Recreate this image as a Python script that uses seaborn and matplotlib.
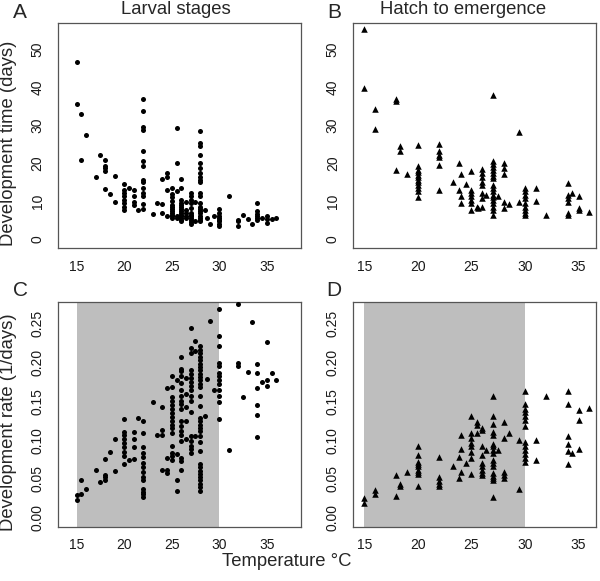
import numpy as np
import pandas as pd
import matplotlib
matplotlib.use("Agg")
import matplotlib.pyplot as plt
import seaborn as sns

# ---------------- data ----------------
# Panel A: larval stages, development time (days)
a_temps = [15, 15.5, 16, 17, 17.5, 18, 18.5, 19, 20, 20.5, 21, 21.5, 22, 23, 23.5, 24, 24.5, 25,
           25.6, 26, 26.5, 27, 27.5, 28, 28.5, 28.7, 29, 29.5, 30, 31, 32, 32.5, 33, 33.5, 34,
           34.5, 35, 35.5, 36]
a_days = [[46.8, 35.7], [33.0, 21.0], [27.4], [16.3], [22.1], [21.0, 19.4, 18.8, 18.1, 13.2],
          [11.8], [16.8, 9.8], [14.6, 13.0, 12.1, 11.3, 10.4, 9.5, 8.6, 7.7], [13.5],
          [13.0, 11.3, 9.9, 9.1], [7.7],
          [37.0, 33.7, 29.6, 28.9, 23.3, 20.6, 19.2, 15.7, 15.0, 13.5, 12.1, 11.3, 9.2, 7.9],
          [6.7], [9.5], [15.9, 9.3, 6.9], [17.4, 16.5, 12.9, 6.0],
          [13.5, 12.0, 11.0, 10.0, 9.0, 8.5, 8.0, 7.5, 7.0, 6.5, 6.0, 5.5],
          [29.3, 20.2, 12.8, 6.0, 5.5],
          [15.9, 13.5, 10.4, 9.5, 9.0, 8.6, 8.0, 7.5, 7.0, 6.5, 6.0, 5.5, 5.0, 4.8],
          [9.9, 7.7, 6.9, 6.0, 5.5],
          [12.1, 11.3, 10.4, 9.5, 8.2, 6.9, 6.5, 6.0, 5.5, 5.0, 4.5, 4.1],
          [9.8, 4.7],
          [28.6, 25.4, 24.5, 22.3, 20.1, 18.8, 17.4, 16.5, 15.7, 15.0, 12.1, 11.3, 9.5, 8.6, 7.9,
           7.4, 6.8, 6.2, 5.6, 5.0, 4.7],
          [7.6], [5.5], [3.9], [6.0], [7.9, 7.0, 6.2, 5.5, 5.1, 4.7, 4.0, 3.5], [11.5],
          [5.1, 4.8, 3.5], [6.4], [5.4], [3.9], [9.6, 7.5, 6.6, 6.0, 5.5, 5.1], [5.5],
          [6.0, 5.3, 4.4], [5.3], [5.5]]

# Panel B: hatch to emergence, development time (days)
b_temps = [15, 16, 18, 18.3, 19, 20, 22, 23.3, 23.8, 24, 24.5, 25, 25.5, 25.6, 26, 26.4, 27,
           27.5, 28, 28.5, 29.4, 30, 31, 32, 34, 34.4, 35, 36]
b_days = [[55.5, 39.9], [34.3, 29.1], [37.0, 36.4, 18.3], [24.7, 23.2], [17.1],
          [24.8, 19.2, 18.3, 17.6, 17.0, 16.3, 15.7, 15.0, 14.3, 13.6, 12.6, 11.0],
          [25.2, 23.2, 22.3, 21.8, 19.5, 13.0], [15.1], [20.1, 13.0], [17.3, 11.5, 9.5],
          [14.6], [18.0, 13.0, 12.1, 11.3, 10.4, 9.5, 7.7], [8.6], [8.2],
          [18.5, 17.4, 16.5, 15.2, 14.3, 12.3, 10.8, 8.6], [11.7],
          [37.9, 20.5, 19.8, 19.0, 18.3, 17.5, 16.8, 16.1, 14.3, 13.5, 12.6, 11.7, 11.1, 10.4,
           9.5, 8.6, 7.7, 6.4],
          [11.5], [20.1, 18.9, 17.2, 9.9, 8.2], [9.3], [28.2, 9.9],
          [13.6, 12.6, 11.7, 10.8, 9.5, 8.6, 7.7, 6.9, 6.4], [13.6, 10.0], [6.4],
          [14.7, 11.7, 10.8, 9.9, 6.9, 6.3], [12.1], [11.3, 8.2, 7.6], [7.3]]

# Panel C: larval stages, development rate (1/days)
c_temps = a_temps
c_rate = [[0.0223, 0.0288], [0.048, 0.031], [0.037], [0.062], [0.046],
          [0.076, 0.055, 0.052, 0.048], [0.085], [0.102, 0.060],
          [0.127, 0.111, 0.107, 0.101, 0.096, 0.091, 0.085, 0.079, 0.069], [0.074],
          [0.111, 0.101, 0.091, 0.076], [0.129],
          [0.125, 0.109, 0.091, 0.084, 0.078, 0.071, 0.065, 0.059, 0.052, 0.048, 0.037, 0.033,
           0.030, 0.027],
          [0.149], [0.107], [0.143, 0.113, 0.107, 0.062], [0.167, 0.077, 0.061, 0.058],
          [0.183, 0.168, 0.155, 0.150, 0.145, 0.140, 0.135, 0.130, 0.125, 0.120, 0.115, 0.109,
           0.092, 0.084, 0.079, 0.074],
          [0.178, 0.082, 0.049, 0.034],
          [0.207, 0.192, 0.189, 0.183, 0.174, 0.165, 0.157, 0.151, 0.146, 0.140, 0.125, 0.118,
           0.112, 0.107, 0.099, 0.077, 0.073, 0.062],
          [0.180, 0.159, 0.143, 0.125, 0.102],
          [0.245, 0.219, 0.213, 0.190, 0.185, 0.180, 0.175, 0.170, 0.165, 0.157, 0.150, 0.136,
           0.105, 0.099, 0.092, 0.088, 0.084],
          [0.228, 0.215, 0.105],
          [0.221, 0.216, 0.212, 0.207, 0.203, 0.198, 0.194, 0.190, 0.185, 0.181, 0.177, 0.172,
           0.168, 0.157, 0.144, 0.129, 0.125, 0.120, 0.116, 0.112, 0.105, 0.097, 0.086, 0.069,
           0.065, 0.060, 0.056, 0.052, 0.048, 0.043, 0.039, 0.035],
          [0.131], [0.179], [0.254], [0.165],
          [0.269, 0.234, 0.221, 0.200, 0.196, 0.186, 0.183, 0.178, 0.172, 0.165, 0.157, 0.149,
           0.127],
          [0.087], [0.276, 0.200, 0.195], [0.155], [0.188], [0.253],
          [0.198, 0.186, 0.167, 0.145, 0.133, 0.104], [0.175], [0.227, 0.177, 0.170], [0.186],
          [0.178]]

# Panel D: hatch to emergence, development rate (1/days)
d_temps = [15, 16, 18, 18.3, 19, 20, 22, 23.3, 23.8, 24, 24.5, 25, 25.5, 26, 26.4, 27, 27.5,
           28, 28.5, 29.4, 30, 31, 32, 34, 34.4, 35, 36]
d_rate = [[0.026, 0.0185], [0.036, 0.031], [0.055, 0.028], [0.044, 0.041], [0.059],
          [0.092, 0.081, 0.072, 0.069, 0.066, 0.062, 0.059, 0.056, 0.041],
          [0.078, 0.052, 0.047, 0.044, 0.041], [0.067], [0.078, 0.051], [0.107, 0.088, 0.059],
          [0.070], [0.131, 0.109, 0.103, 0.096, 0.092, 0.085, 0.077, 0.056],
          [0.123, 0.120, 0.109],
          [0.116, 0.113, 0.093, 0.081, 0.070, 0.066, 0.062, 0.058, 0.055], [0.087],
          [0.157, 0.131, 0.121, 0.111, 0.107, 0.095, 0.092, 0.087, 0.083, 0.075, 0.071, 0.067,
           0.057, 0.054, 0.051, 0.048, 0.027],
          [0.087], [0.124, 0.103, 0.059, 0.055, 0.051], [0.109], [0.100, 0.037],
          [0.163, 0.147, 0.140, 0.136, 0.131, 0.126, 0.118, 0.097, 0.092, 0.087, 0.082, 0.077,
           0.072],
          [0.100, 0.075], [0.157], [0.163, 0.146, 0.105, 0.095, 0.086, 0.069], [0.084],
          [0.139, 0.126, 0.089], [0.141]]

panel_titles = ["Larval stages", "Hatch to emergence"]
panel_letters = ["A", "B", "C", "D"]
time_ticks = [0, 10, 20, 30, 40, 50]
rate_ticks = [0.00, 0.05, 0.10, 0.15, 0.20, 0.25]
temp_ticks = [15, 20, 25, 30, 35]
opt_range = [15, 30]


def to_frame(temps, groups, name):
    xs, ys = [], []
    for t, vals in zip(temps, groups):
        for v in vals:
            xs.append(t)
            ys.append(v)
    return pd.DataFrame({"temp": xs, name: ys})


dfA = to_frame(a_temps, a_days, "val")
dfB = to_frame(b_temps, b_days, "val")
dfC = to_frame(c_temps, c_rate, "val")
dfD = to_frame(d_temps, d_rate, "val")

# ---------------- styling ----------------
sns.set_style("white")
plt.rcParams["font.family"] = ["Liberation Sans", "DejaVu Sans"]

W, H = 600, 581
fig = plt.figure(figsize=(W / 100, H / 100), dpi=100)


def box(l, r, t, b):
    return [l / W, 1 - b / H, (r - l) / W, (b - t) / H]


axA = fig.add_axes(box(58.3, 301, 22.7, 248.3))
axB = fig.add_axes(box(353.5, 596, 22.7, 248.3))
axC = fig.add_axes(box(58.3, 301, 301.5, 526.5))
axD = fig.add_axes(box(353.5, 596, 301.5, 526.5))

edge = "#555555"
xl_left = (13.08, 38.6)
xl_right = (13.99, 36.63)


def style(ax, xlim, ylim, yticks, yfmt):
    ax.set_xlim(*xlim)
    ax.set_ylim(*ylim)
    ax.set_xticks(temp_ticks)
    ax.set_yticks(yticks)
    ax.set_yticklabels([yfmt.format(v) for v in yticks])
    for s in ax.spines.values():
        s.set_visible(True)
        s.set_color(edge)
        s.set_linewidth(0.9)
    ax.tick_params(axis="both", which="major", direction="out", length=4.8, width=0.8,
                   color=edge, labelsize=10, labelcolor="#1a1a1a")
    ax.tick_params(axis="x", pad=3.5)
    ax.tick_params(axis="y", pad=5, labelrotation=90)
    for lbl in ax.get_yticklabels():
        lbl.set_va("center")
    ax.set_xlabel("")
    ax.set_ylabel("")
    ax.set_facecolor("white")


for ax in (axC, axD):
    ax.axvspan(opt_range[0], opt_range[1], color="#bebebe", lw=0, zorder=0)

sns.scatterplot(data=dfA, x="temp", y="val", ax=axA, color="black", marker="o", s=13,
                linewidth=0, legend=False, zorder=3)
sns.scatterplot(data=dfC, x="temp", y="val", ax=axC, color="black", marker="o", s=13,
                linewidth=0, legend=False, zorder=3)
sns.scatterplot(data=dfB, x="temp", y="val", ax=axB, color="black", marker="^", s=22,
                linewidth=0, legend=False, zorder=3)
sns.scatterplot(data=dfD, x="temp", y="val", ax=axD, color="black", marker="^", s=22,
                linewidth=0, legend=False, zorder=3)

style(axA, xl_left, (-2.4, 57.1), time_ticks, "{:d}")
style(axB, xl_right, (-2.4, 57.1), time_ticks, "{:d}")
style(axC, xl_left, (-0.0114, 0.2788), rate_ticks, "{:.2f}")
style(axD, xl_right, (-0.0114, 0.2788), rate_ticks, "{:.2f}")

# titles and panel letters
fig.text(176 / W, 1 - 9.5 / H, panel_titles[0], ha="center", va="center", fontsize=13.3)
fig.text(463 / W, 1 - 9.5 / H, panel_titles[1], ha="center", va="center", fontsize=13.3)
fig.text(20 / W, 1 - 12 / H, panel_letters[0], ha="center", va="center", fontsize=15)
fig.text(334 / W, 1 - 12 / H, panel_letters[1], ha="center", va="center", fontsize=15)
fig.text(20 / W, 1 - 290 / H, panel_letters[2], ha="center", va="center", fontsize=15)
fig.text(334 / W, 1 - 290 / H, panel_letters[3], ha="center", va="center", fontsize=15)

# axis labels
fig.text(9 / W, 1 - 143 / H, "Development time (days)", rotation=90, ha="center",
         va="center", fontsize=13.3)
fig.text(9 / W, 1 - 422 / H, "Development rate (1/days)", rotation=90, ha="center",
         va="center", fontsize=13.3)
fig.text(287 / W, 1 - 562 / H, "Temperature °C", ha="center", va="center", fontsize=13.3)

fig.savefig("out.png", dpi=100, facecolor="white")
